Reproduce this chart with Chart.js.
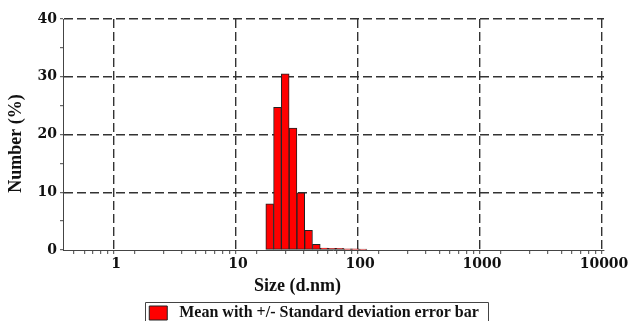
<!DOCTYPE html>
<html>
<head>
<meta charset="utf-8">
<script src="https://cdn.jsdelivr.net/npm/chart.js@4"></script>
<style>
  html, body { margin: 0; padding: 0; background: #fff; }
  #wrap { width: 628px; height: 321px; position: relative; }
</style>
</head>
<body>
<div id="wrap"><canvas id="c" width="628" height="321"></canvas></div>
<script>
// ---- data ----
const sizeClasses = [18.17, 21.04, 24.36, 28.21, 32.67, 37.84, 43.82, 50.75, 58.77, 68.06, 78.82, 91.28, 105.7];
const numberPct   = [8.0, 24.7, 30.5, 21.1, 9.9, 3.4, 1.0, 0.35, 0.3, 0.3, 0.2, 0.2, 0.15];
const xMajorTicks = [1, 10, 100, 1000, 10000];
const yTicks      = [0, 5, 10, 15, 20, 25, 30, 35, 40];
const yLabelTicks = [0, 10, 20, 30, 40];
const seriesLabel = 'Mean with +/- Standard deviation error bar';
const xTitle = 'Size (d.nm)';
const yTitle = 'Number (%)';

const GRID = '#333';
const binRatio = 1.1581; // size class ratio

function isPow10(v) {
  const l = Math.log10(v);
  return Math.abs(l - Math.round(l)) < 1e-9;
}

const legendBorder = {
  id: 'legendBorder',
  afterDraw(chart) {
    const hb = chart.legend && chart.legend.legendHitBoxes && chart.legend.legendHitBoxes[0];
    if (!hb) return;
    const ctx = chart.ctx;
    ctx.save();
    ctx.strokeStyle = '#444';
    ctx.lineWidth = 1;
    const l = Math.round(hb.left - 4) + 0.5;
    const r = Math.round(hb.left + hb.width + 9) + 0.5;
    const t = Math.round(hb.top - 3) + 0.5;
    ctx.beginPath();
    ctx.moveTo(l, chart.height + 2);
    ctx.lineTo(l, t);
    ctx.lineTo(r, t);
    ctx.lineTo(r, chart.height + 2);
    ctx.stroke();
    ctx.restore();
  }
};

const chart = new Chart(document.getElementById('c'), {
  type: 'bar',
  data: {
    datasets: [{
      label: '\u00a0' + seriesLabel,
      data: sizeClasses.map((s, i) => ({ x: s, y: numberPct[i] })),
      backgroundColor: '#ff0000',
      borderColor: '#222',
      borderWidth: 1,
      borderSkipped: false,
      categoryPercentage: 1,
      barPercentage: 1,
      barThickness: (ctx) => {
        const sc = ctx.chart.scales.x;
        if (!sc) return 8;
        const c = sizeClasses[0];
        return sc.getPixelForValue(c * Math.sqrt(binRatio)) - sc.getPixelForValue(c / Math.sqrt(binRatio));
      }
    }]
  },
  options: {
    responsive: false,
    animation: false,
    devicePixelRatio: 1,
    layout: { padding: { top: 19, right: 0, left: 0, bottom: -10 } },
    plugins: {
      tooltip: { enabled: false },
      legend: {
        position: 'bottom',
        labels: {
          color: '#111',
          font: { family: 'Liberation Serif', weight: 'bold', size: 16 },
          boxWidth: 18,
          boxHeight: 14,
          padding: 3
        }
      }
    },
    scales: {
      x: {
        type: 'logarithmic',
        min: 0.367,
        max: 10000,
        afterBuildTicks: (scale) => {
          const t = [];
          for (let e = -1; e <= 4; e++) {
            for (let m = 1; m <= 9; m++) {
              const v = m * Math.pow(10, e);
              if (v >= 0.367 && v <= 10000) t.push({ value: v });
            }
          }
          scale.ticks = t;
        },
        afterFit: (scale) => { scale.height = 52; scale.paddingRight = 24; },
        grid: {
          color: (ctx) => (ctx.tick && isPow10(ctx.tick.value)) ? GRID : 'rgba(0,0,0,0)',
          lineWidth: 1.4,
          tickColor: '#444',
          tickLength: 4,
          tickWidth: 1,
          tickBorderDash: []
        },
        border: { display: true, color: '#444', width: 1, dash: [9, 4] },
        ticks: {
          autoSkip: false,
          maxRotation: 0,
          padding: 2,
          color: '#111',
          font: { family: 'DejaVu Serif', weight: 'bold', size: 14 },
          callback: (v) => xMajorTicks.includes(v) ? String(v) : ''
        },
        title: {
          display: true,
          text: xTitle + '\u00a0'.repeat(16),
          color: '#111',
          font: { family: 'Liberation Serif', weight: 'bold', size: 18 },
          padding: { top: 0, bottom: 5 }
        }
      },
      y: {
        type: 'linear',
        min: 0,
        max: 40,
        afterBuildTicks: (scale) => { scale.ticks = yTicks.map(v => ({ value: v })); },
        afterFit: (scale) => { scale.width = 63; },
        grid: {
          color: (ctx) => (ctx.tick && ctx.tick.value > 0 && ctx.tick.value % 10 === 0) ? GRID : 'rgba(0,0,0,0)',
          lineWidth: 1.4,
          tickColor: '#444',
          tickLength: 3,
          tickWidth: 1,
          tickBorderDash: []
        },
        border: { display: true, color: '#444', width: 1, dash: [9, 4] },
        ticks: {
          autoSkip: false,
          padding: 3,
          color: '#111',
          font: { family: 'DejaVu Serif', weight: 'bold', size: 14 },
          callback: (v) => yLabelTicks.includes(v) ? String(v) : ''
        },
        title: {
          display: true,
          text: yTitle + '\u00a0'.repeat(4),
          color: '#111',
          font: { family: 'Liberation Serif', weight: 'bold', size: 18 },
          padding: { top: 6, bottom: 0 }
        }
      }
    }
  },
  plugins: [legendBorder]
});
</script>
</body>
</html>
